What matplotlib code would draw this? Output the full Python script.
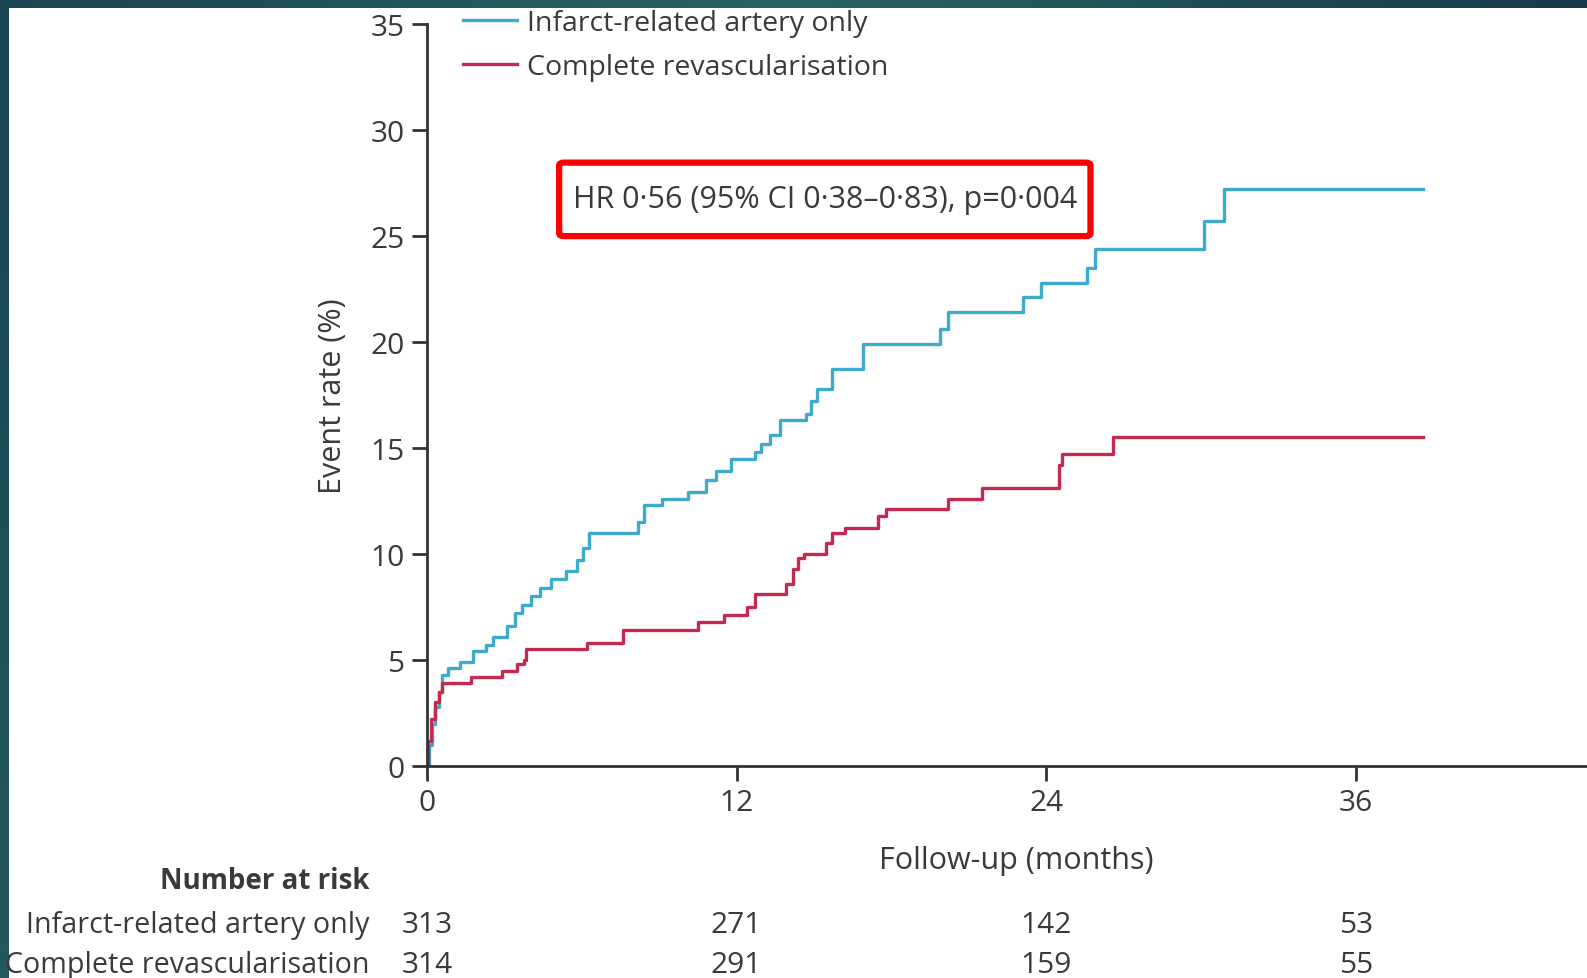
import matplotlib
matplotlib.use("Agg")
import matplotlib.pyplot as plt
import matplotlib.transforms as mtransforms
from matplotlib.colors import LinearSegmentedColormap
from matplotlib.lines import Line2D
from matplotlib.patches import FancyBboxPatch
import numpy as np

plt.rcParams['font.family'] = ['Open Sans', 'DejaVu Sans']

# cumulative event rate (%) step points: (months, value)
ira_months = [0, 0.1, 0.2, 0.3, 0.45, 0.6, 0.8, 1.3, 1.8, 2.3, 2.55, 3.1, 3.4, 3.7,
              4.05, 4.4, 4.8, 5.4, 5.8, 6.05, 6.3, 8.2, 8.4, 9.1, 10.1, 10.8, 11.2,
              11.8, 12.7, 12.95, 13.3, 13.7, 14.7, 14.9, 15.1, 15.7, 16.9, 19.9,
              20.2, 23.1, 23.8, 25.6, 25.9, 30.1, 30.9, 38.6]
ira_rate = [0, 1.0, 2.0, 2.8, 3.5, 4.3, 4.6, 4.9, 5.4, 5.7, 6.1, 6.6, 7.2, 7.6,
            8.0, 8.4, 8.8, 9.2, 9.7, 10.3, 11.0, 11.5, 12.3, 12.6, 12.9, 13.5, 13.9,
            14.5, 14.8, 15.2, 15.6, 16.3, 16.6, 17.2, 17.8, 18.7, 19.9, 20.6,
            21.4, 22.1, 22.8, 23.5, 24.4, 25.7, 27.2, 27.2]

cr_months = [0, 0.05, 0.15, 0.3, 0.45, 0.6, 1.7, 2.9, 3.5, 3.75, 3.85, 6.2, 7.6,
             10.5, 11.5, 12.4, 12.7, 13.9, 14.2, 14.4, 14.6, 15.45, 15.7, 16.2,
             17.5, 17.8, 20.2, 21.5, 24.5, 24.6, 26.6, 38.6]
cr_rate = [0, 1.2, 2.2, 3.0, 3.5, 3.9, 4.2, 4.5, 4.8, 5.0, 5.5, 5.8, 6.4,
           6.8, 7.1, 7.5, 8.1, 8.6, 9.3, 9.8, 10.0, 10.5, 11.0, 11.2,
           11.8, 12.1, 12.6, 13.1, 14.2, 14.7, 15.5, 15.5]

group_names = ["Infarct-related artery only", "Complete revascularisation"]
risk_months = [0, 12, 24, 36]
ira_at_risk = [313, 271, 142, 53]
cr_at_risk = [314, 291, 159, 55]
hr_text = "HR 0·56 (95% CI 0·38–0·83), p=0·004"

blue = "#3eabcb"
red = "#c42a50"
grey = "#333333"
txt = "#3a3a3a"

fig = plt.figure(figsize=(15.87, 9.79), dpi=100)
ax = fig.add_axes([0.269, 0.2166, 0.731, 0.758])

ax.plot(ira_months, ira_rate, drawstyle="steps-post", color=blue, lw=2.4)
ax.plot(cr_months, cr_rate, drawstyle="steps-post", color=red, lw=2.4)

ax.set_xlim(0, 44.96)
ax.set_ylim(0, 35)
ax.set_xticks(risk_months)
ax.set_yticks(range(0, 36, 5))
for s in ["top", "right"]:
    ax.spines[s].set_visible(False)
for s in ["left", "bottom"]:
    ax.spines[s].set_linewidth(2)
    ax.spines[s].set_color(grey)
ax.tick_params(axis="both", direction="out", length=11, width=2, color=grey,
               labelsize=21.5, labelcolor=txt, pad=5)
ax.set_xlabel("Follow-up (months)", fontsize=22, color=txt)
ax.xaxis.set_label_coords(0.508, -0.106)
ax.set_ylabel("Event rate (%)", fontsize=22, color=txt, labelpad=16)

handles = [Line2D([], [], color=blue, lw=2.4), Line2D([], [], color=red, lw=2.4)]
ax.legend(handles, group_names, loc="upper left", bbox_to_anchor=(0.29, 0.993),
          bbox_transform=fig.transFigure, frameon=False, fontsize=20.5,
          handlelength=1.9, handletextpad=0.35, labelspacing=0.58,
          borderaxespad=0, borderpad=0.1, labelcolor=txt)

# hazard ratio annotation in a red frame
ax.add_patch(FancyBboxPatch((0.114, 0.714), 0.458, 0.099, transform=ax.transAxes,
                            boxstyle="round,pad=0,rounding_size=0.004",
                            fc="white", ec="#ff0000", lw=4.5, zorder=3))
ax.text(0.343, 0.7635, hr_text, transform=ax.transAxes, ha="center", va="center",
        fontsize=22, color=txt, zorder=4)

# number-at-risk table under the x axis
trans = mtransforms.blended_transform_factory(ax.transData, fig.transFigure)
fig.text(0.2326, 0.1, "Number at risk", ha="right", va="center", fontsize=20,
         fontweight="bold", color=txt)
for y, name, counts in [(0.055, group_names[0], ira_at_risk),
                        (0.0135, group_names[1], cr_at_risk)]:
    fig.text(0.2326, y, name, ha="right", va="center", fontsize=20.6, color=txt)
    for m, n in zip(risk_months, counts):
        ax.text(m, y, str(n), transform=trans, ha="center", va="center",
                fontsize=21.5, color=txt, clip_on=False)

# dark slide frame along the left and top edges
frame = LinearSegmentedColormap.from_list("frame", ["#1b4552", "#2a6464", "#163a4a"])
left = fig.add_axes([0, 0, 9 / 1587, 1])
left.imshow(np.linspace(0, 0.3, 50).reshape(-1, 1), cmap=frame, aspect="auto", vmin=0, vmax=1)
left.axis("off")
top = fig.add_axes([0, 1 - 9 / 979, 1, 9 / 979])
top.imshow(np.linspace(0, 1, 200).reshape(1, -1), cmap=frame, aspect="auto")
top.axis("off")

fig.savefig("out.png", dpi=100)
